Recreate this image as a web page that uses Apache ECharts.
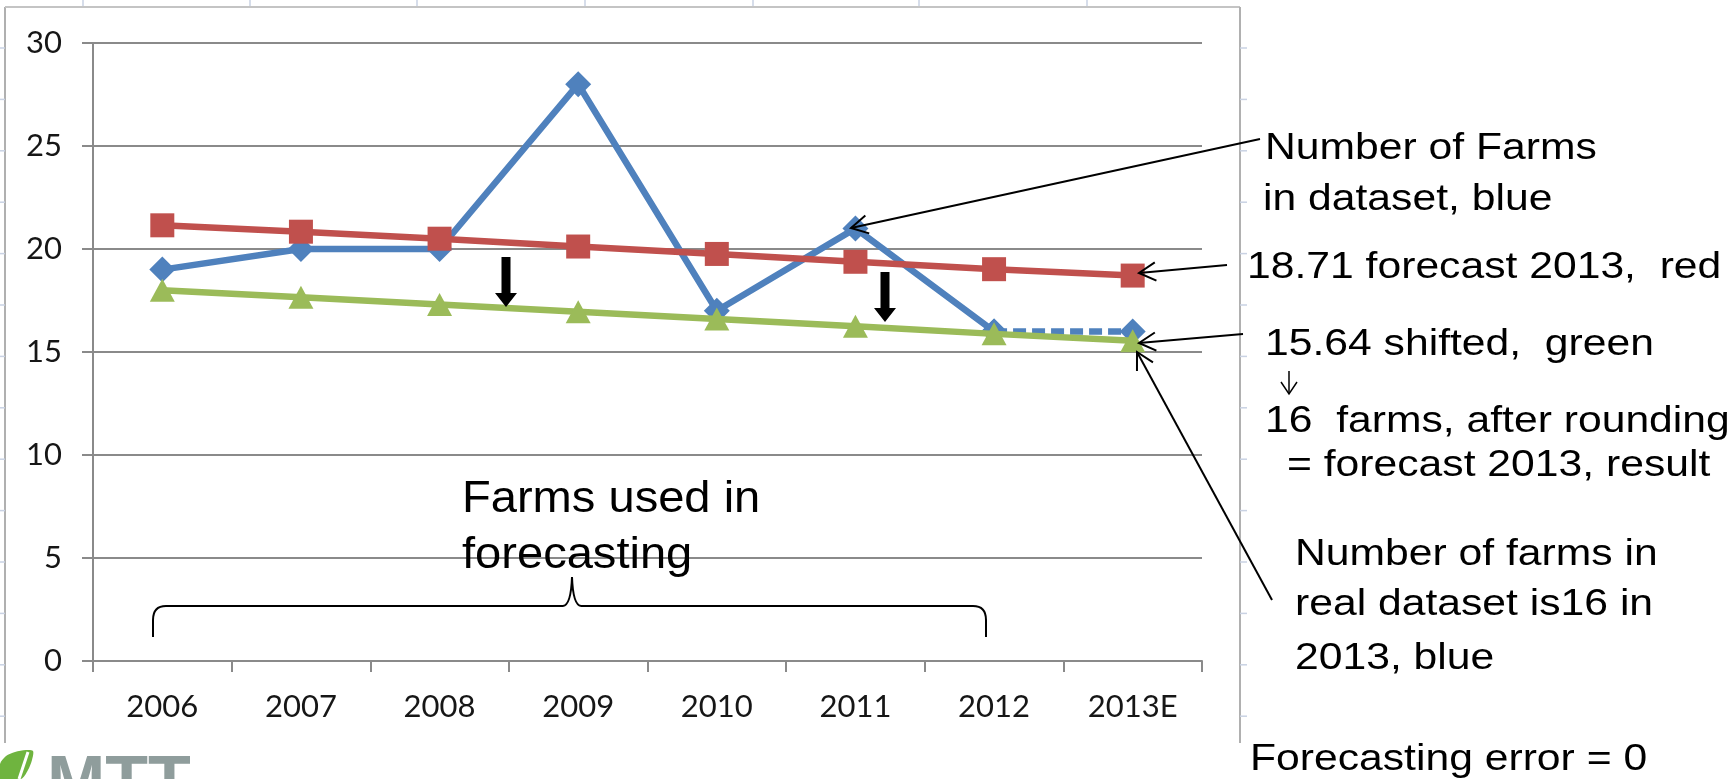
<!DOCTYPE html>
<html><head><meta charset="utf-8">
<script src="https://cdn.jsdelivr.net/npm/echarts@6/dist/echarts.min.js"></script>
<style>html,body{margin:0;padding:0;background:#fff;}#c{width:1730px;height:779px;}</style>
</head><body><div id="c"></div>
<script>
// ---- data ----
const categories = ['2006','2007','2008','2009','2010','2011','2012','2013E'];
const farmsInDataset = [19, 20, 20, 28, 17, 21, 16, '-'];
const farmsReal2013 = ['-', '-', '-', '-', '-', '-', 16, 16];
const forecastRed = [21.15, 20.84, 20.50, 20.12, 19.76, 19.38, 19.02, 18.71];
const shiftedGreen = [18.0, 17.66, 17.3, 16.95, 16.6, 16.25, 15.88, 15.55];
const yMin = 0, yMax = 30, yStep = 5;

// ---- layout ----
const G = {left: 93, right: 528, top: 43, bottom: 118};
const AX = '#8a8a8a';
const TXT_FONT = '"Liberation Sans", Arial, sans-serif';

const chart = echarts.init(document.getElementById('c'), null, {renderer: 'canvas'});

function txt(s, x, baseline, size, sx, fill) {
  return {type: 'text', x: x, y: baseline - 0.31 * size, scaleX: sx || 1, z: 100, silent: true,
    style: {text: s, fill: fill || '#000', fontSize: size, fontFamily: TXT_FONT, align: 'left', verticalAlign: 'middle'}};
}
function seg(x1, y1, x2, y2, w, c) {
  return {type: 'line', z: 90, silent: true, shape: {x1, y1, x2, y2}, style: {stroke: c || '#000', lineWidth: w || 2}};
}
function curve(x1, y1, cx, cy, x2, y2) {
  return {type: 'bezierCurve', z: 90, silent: true, shape: {x1, y1, x2, y2, cpx1: cx, cpy1: cy},
    style: {stroke: '#000', lineWidth: 2, fill: null}};
}
function openArrow(fx, fy, tx, ty) {
  const a = Math.atan2(fy - ty, fx - tx), L = 19, sp = 0.5;
  return [seg(fx, fy, tx, ty, 2),
    {type: 'polyline', z: 90, silent: true, shape: {points: [
      [tx + L * Math.cos(a + sp), ty + L * Math.sin(a + sp)], [tx, ty],
      [tx + L * Math.cos(a - sp), ty + L * Math.sin(a - sp)]]}, style: {stroke: '#000', lineWidth: 2, fill: null}}];
}
function thickArrow(x, top, tip) {
  const hl = 14, sw = 4.5, hw = 11;
  return {type: 'polygon', z: 90, silent: true, shape: {points: [
    [x - sw, top], [x + sw, top], [x + sw, tip - hl], [x + hw, tip - hl], [x, tip], [x - hw, tip - hl], [x - sw, tip - hl]]},
    style: {fill: '#000'}};
}

const graphics = [];
// frame
graphics.push(seg(5, 7, 5, 743, 2, '#b0b0b0'), seg(5, 7, 1240, 7, 2, '#c4c4c4'), seg(1240, 7, 1240, 743, 2, '#b0b0b0'));
// faint ruler ticks
for (let k = 0; k < 14; k++) {
  const y = 48 + 51.4 * k;
  graphics.push(seg(1240, y, 1247, y, 1.5, '#c9d2e3'));
  if (y < 740) graphics.push(seg(0, y, 5, y, 1.5, '#c9d2e3'));
}
[83, 250, 417, 585, 753, 919, 1087].forEach(x => graphics.push(seg(x, 0, x, 6, 1.5, '#c9d2e3')));

// thick down arrows
graphics.push(thickArrow(506, 257, 307), thickArrow(885, 272, 322));

// annotation arrows
graphics.push(...openArrow(1260, 139, 851, 228));
graphics.push(...openArrow(1227, 265, 1139, 273));
graphics.push(...openArrow(1243, 334, 1139, 343));
graphics.push(...openArrow(1272, 600, 1137, 352));
// small arrow between 15.64 and 16
(function(){
  const x = 1289, t = 371, b = 394;
  graphics.push(seg(x, t, x, b, 1.5), {type: 'polyline', z: 90, silent: true,
    shape: {points: [[x - 8, b - 12], [x, b], [x + 8, b - 12]]}, style: {stroke: '#000', lineWidth: 1.5, fill: null}});
})();

// brace
graphics.push(
  seg(153, 637, 153, 620), curve(153, 620, 153, 606, 166, 606), seg(166, 606, 563, 606),
  curve(563, 606, 571, 605, 572, 577), curve(572, 577, 573, 605, 581, 606), seg(581, 606, 973, 606),
  curve(973, 606, 986, 606, 986, 620), seg(986, 620, 986, 637)
);

// texts
const S = 36, SX = 1.185;
graphics.push(
  txt('Number of Farms', 1265, 160, S, SX),
  txt('in dataset, blue', 1263, 211, S, SX),
  txt('18.71 forecast 2013,  red', 1247, 279, S, SX),
  txt('15.64 shifted,  green', 1265, 356, S, SX),
  txt('16  farms, after rounding', 1265, 433, S, SX),
  txt('= forecast 2013, result', 1287, 477, S, SX),
  txt('Number of farms in', 1295, 566, S, SX),
  txt('real dataset is16 in', 1295, 616, S, SX),
  txt('2013, blue', 1295, 670, S, SX),
  txt('Forecasting error = 0', 1250, 771, S, SX),
  txt('Farms used in', 462, 513, 44, 1.07),
  txt('forecasting', 462, 569, 44, 1.07)
);

// logo
graphics.push({type: 'polygon', z: 90, silent: true,
  shape: {points: [[0, 779], [0, 764], [6, 756], [15, 752], [26, 750], [33, 751], [32, 760], [28, 770], [21, 779]], smooth: 0.3},
  style: {fill: '#6fb43f'}});
graphics.push(seg(28, 752, 19, 779, 3, '#ffffff'));
graphics.push({type: 'text', x: 47, y: 751, z: 90, silent: true,
  style: {text: 'MTT', fill: '#8f9d9c', fontSize: 70, fontWeight: 'bold', fontFamily: TXT_FONT, align: 'left', verticalAlign: 'top'}});

const labelFont = {fontFamily: 'Lato, "Open Sans", sans-serif', fontSize: 31, color: '#161616'};

chart.setOption({
  animation: false,
  backgroundColor: '#ffffff',
  grid: G,
  xAxis: {
    type: 'category', data: categories, boundaryGap: true,
    axisLine: {show: true, lineStyle: {color: AX, width: 2}},
    axisTick: {show: true, length: 11, inside: false, lineStyle: {color: AX, width: 2}},
    axisLabel: Object.assign({margin: 30, interval: 0}, labelFont),
    splitLine: {show: false}
  },
  yAxis: {
    type: 'value', min: yMin, max: yMax, interval: yStep,
    axisLine: {show: true, lineStyle: {color: AX, width: 2}},
    axisTick: {show: true, length: 11, inside: false, lineStyle: {color: AX, width: 2}},
    axisLabel: Object.assign({margin: 31}, labelFont),
    splitLine: {show: true, lineStyle: {color: AX, width: 2}}
  },
  series: [
    {name: 'Farms in dataset', type: 'line', data: farmsInDataset, symbol: 'diamond', symbolSize: 26,
      lineStyle: {color: '#4F81BD', width: 6.5}, itemStyle: {color: '#4F81BD'}, z: 3},
    {name: 'Real 2013', type: 'line', data: farmsReal2013, symbol: 'diamond', symbolSize: 26,
      lineStyle: {color: '#4F81BD', width: 6.5, type: [13, 6]}, itemStyle: {color: '#4F81BD'}, z: 3},
    {name: 'Forecast', type: 'line', data: forecastRed, symbol: 'rect', symbolSize: 24,
      lineStyle: {color: '#C0504D', width: 6.5}, itemStyle: {color: '#C0504D'}, z: 4},
    {name: 'Shifted', type: 'line', data: shiftedGreen, symbol: 'triangle', symbolSize: [25, 23],
      lineStyle: {color: '#9BBB59', width: 6.5}, itemStyle: {color: '#9BBB59'}, z: 5}
  ],
  graphic: graphics
});
</script></body></html>
